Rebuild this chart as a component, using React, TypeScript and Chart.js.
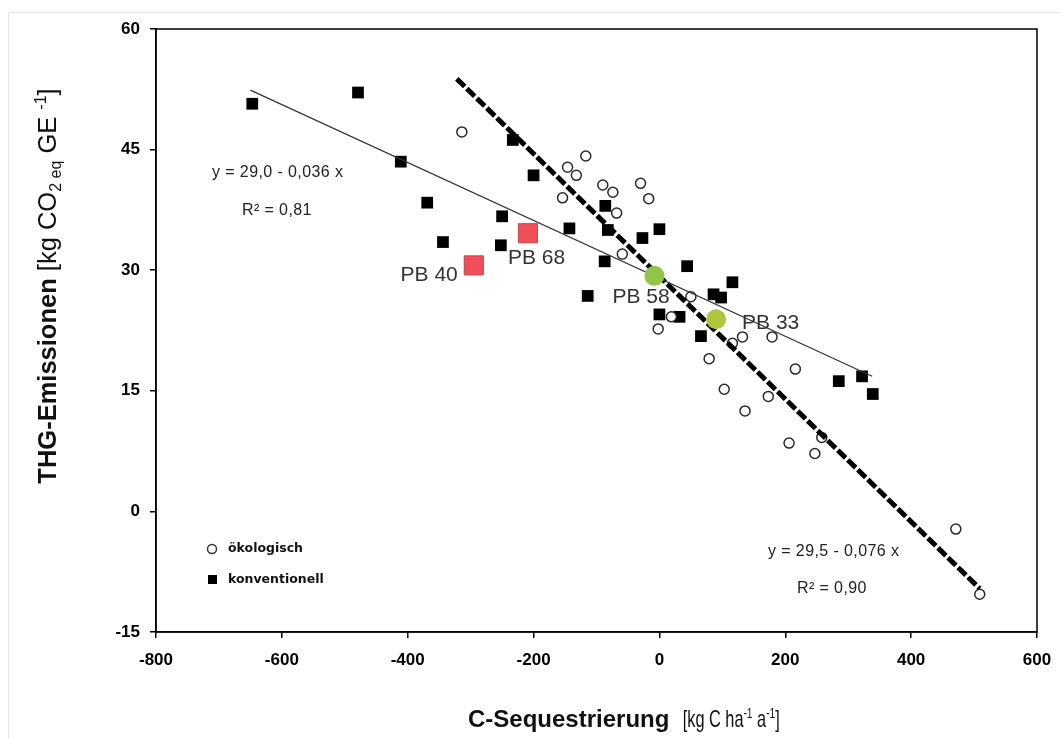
import React, { useEffect, useRef } from 'react';
import { Chart, registerables } from 'chart.js';

Chart.register(...registerables);

// ---- data ----
const oekoX = [-314, -117, -146, -132, -154, -90, -74, -68, -30, -17, -59, 50, 19, -2, 132, 179, 116, 79, 216, 103, 173, 136, 206, 258, 247, 471, 509];
const oekoY = [47.2, 44.2, 42.8, 41.8, 39.0, 40.6, 39.7, 37.1, 40.8, 38.9, 32.0, 26.7, 24.2, 22.7, 21.7, 21.7, 20.9, 19.0, 17.7, 15.2, 14.3, 12.5, 8.5, 9.2, 7.2, -2.2, -10.3];

const konvX = [-647, -479, -411, -369, -344, -233, -200, -250, -252, -143, -86, -82, -27, 0, -87, -114, 44, 0, 32, 86, 98, 116, 66, 285, 322, 339];
const konvY = [50.7, 52.1, 43.5, 38.4, 33.5, 46.2, 41.8, 36.7, 33.1, 35.2, 38.0, 35.0, 34.0, 35.1, 31.1, 26.8, 30.5, 24.5, 24.2, 27.0, 26.6, 28.5, 21.8, 16.2, 16.8, 14.6];

const pbRedLabels = ['PB 40', 'PB 68'];
const pbRedX = [-295, -209];
const pbRedY = [30.6, 34.6];
const pbGreenLabels = ['PB 58', 'PB 33'];
const pbGreenX = [-8, 90];
const pbGreenY = [29.3, 23.9];

// regression line end points
const trendKonvX = [-650, 338];
const trendKonvY = [52.4, 16.8];
const trendOekoX = [-322, 509];
const trendOekoY = [53.8, -9.6];

const xTicks = [-800, -600, -400, -200, 0, 200, 400, 600];
const yTicks = [-15, 0, 15, 30, 45, 60];

const eqKonv = ['y = 29,0 - 0,036 x', 'R² = 0,81'];
const eqOeko = ['y = 29,5 - 0,076 x', 'R² = 0,90'];
const legendLabels = ['ökologisch', 'konventionell'];

const toPts = (xs: number[], ys: number[]) => xs.map((x, i) => ({ x, y: ys[i] }));

type Seg = { t: string; font: string; dy?: number; sx?: number };

function segWidth(ctx: CanvasRenderingContext2D, segs: Seg[]) {
  let total = 0;
  for (const s of segs) {
    ctx.font = s.font;
    total += ctx.measureText(s.t).width * (s.sx || 1);
  }
  return total;
}

function drawSegs(ctx: CanvasRenderingContext2D, segs: Seg[], x0: number, cy: number) {
  let x = x0;
  ctx.textAlign = 'left';
  ctx.textBaseline = 'alphabetic';
  for (const s of segs) {
    ctx.font = s.font;
    const sx = s.sx || 1;
    ctx.save();
    ctx.translate(x, cy + (s.dy || 0));
    ctx.scale(sx, 1);
    ctx.fillText(s.t, 0, 0);
    ctx.restore();
    x += ctx.measureText(s.t).width * sx;
  }
}

const overlay = {
  id: 'overlay',
  beforeDraw(chart: any) {
    const ctx = chart.ctx;
    ctx.save();
    ctx.fillStyle = '#fff';
    ctx.fillRect(0, 0, chart.width, chart.height);
    ctx.strokeStyle = '#e4e4e4';
    ctx.lineWidth = 1;
    ctx.strokeRect(8.5, 12.5, chart.width, chart.height);
    ctx.restore();
  },
  afterDraw(chart: any) {
    const ctx = chart.ctx;
    const a = chart.chartArea;
    const xs = chart.scales.x;
    const ys = chart.scales.y;
    ctx.save();
    // box
    ctx.strokeStyle = '#000';
    ctx.lineWidth = 1.5;
    ctx.strokeRect(a.left, a.top, a.right - a.left, a.bottom - a.top);

    // equations
    ctx.fillStyle = '#222';
    ctx.font = '16px "Liberation Sans", Arial, sans-serif';
    (ctx as any).letterSpacing = '0.4px';
    ctx.textAlign = 'left';
    ctx.textBaseline = 'alphabetic';
    ctx.fillText(eqKonv[0], 212, 177);
    ctx.fillText(eqKonv[1], 242, 215);
    ctx.fillText(eqOeko[0], 768, 556);
    ctx.fillText(eqOeko[1], 797, 593);
    (ctx as any).letterSpacing = '0px';

    // PB labels
    ctx.fillStyle = '#333';
    ctx.font = '21px "Liberation Sans", Arial, sans-serif';
    const p40 = { x: xs.getPixelForValue(pbRedX[0]), y: ys.getPixelForValue(pbRedY[0]) };
    const p68 = { x: xs.getPixelForValue(pbRedX[1]), y: ys.getPixelForValue(pbRedY[1]) };
    const p58 = { x: xs.getPixelForValue(pbGreenX[0]), y: ys.getPixelForValue(pbGreenY[0]) };
    const p33 = { x: xs.getPixelForValue(pbGreenX[1]), y: ys.getPixelForValue(pbGreenY[1]) };
    ctx.textAlign = 'right';
    ctx.fillText(pbRedLabels[0], p40.x - 16, p40.y + 16);
    ctx.textAlign = 'left';
    ctx.fillText(pbRedLabels[1], p68.x - 20, p68.y + 31);
    ctx.fillText(pbGreenLabels[0], p58.x - 42, p58.y + 27);
    ctx.fillText(pbGreenLabels[1], p33.x + 26, p33.y + 10);

    // legend
    ctx.strokeStyle = '#333';
    ctx.lineWidth = 1.5;
    ctx.fillStyle = '#fff';
    ctx.beginPath();
    ctx.arc(212, 549, 4.5, 0, Math.PI * 2);
    ctx.fill();
    ctx.stroke();
    ctx.fillStyle = '#000';
    ctx.fillRect(208, 575, 9, 9);
    ctx.fillStyle = '#111';
    ctx.font = 'bold 12.5px "DejaVu Sans", sans-serif';
    ctx.textBaseline = 'middle';
    ctx.fillText(legendLabels[0], 228, 549);
    ctx.fillText(legendLabels[1], 228, 580);

    // axis titles
    ctx.fillStyle = '#111';
    const B = 'bold 24px "Liberation Sans", Arial, sans-serif';
    const N = '24px "Liberation Sans", Arial, sans-serif';
    const S = '15px "Liberation Sans", Arial, sans-serif';
    const xSegs: Seg[] = [
      { t: 'C-Sequestrierung', font: B },
      { t: '  ', font: N },
      { t: '[kg C ha', font: N, sx: 0.68 },
      { t: '-1', font: S, dy: -9, sx: 0.68 },
      { t: ' a', font: N, sx: 0.68 },
      { t: '-1', font: S, dy: -9, sx: 0.68 },
      { t: ']', font: N, sx: 0.68 },
    ];
    drawSegs(ctx, xSegs, 468, 727);

    const BY = 'bold 25.5px "Liberation Sans", Arial, sans-serif';
    const NY = '25.5px "Liberation Sans", Arial, sans-serif';
    const SY = '16px "Liberation Sans", Arial, sans-serif';
    const ySegs: Seg[] = [
      { t: 'THG-Emissionen', font: BY },
      { t: ' [kg CO', font: NY },
      { t: '2 eq', font: SY, dy: 5 },
      { t: ' GE ', font: NY },
      { t: '-1', font: SY, dy: -10 },
      { t: ']', font: NY },
    ];
    ctx.save();
    ctx.translate(56, 286);
    ctx.rotate(-Math.PI / 2);
    drawSegs(ctx, ySegs, -segWidth(ctx, ySegs) / 2, 0);
    ctx.restore();

    ctx.restore();
  },
};

export default function App() {
  const ref = useRef<HTMLCanvasElement>(null);
  useEffect(() => {
    if (!ref.current) return;
    const tickFont = { family: '"Liberation Sans", Arial, sans-serif', size: 17, weight: 'bold' as const };
    const chart = new Chart(ref.current, {
      type: 'scatter',
      data: {
        datasets: [
          {
            label: 'PB rot',
            data: toPts(pbRedX, pbRedY),
            pointStyle: 'rect',
            pointRadius: 13.5,
            backgroundColor: '#f04e58',
            borderColor: '#c8424c',
            borderWidth: 1,
            order: 0,
          },
          {
            label: 'PB grün',
            data: toPts(pbGreenX, pbGreenY),
            pointStyle: 'circle',
            pointRadius: 10,
            backgroundColor: ['#92c44a', '#b0c43c'],
            borderWidth: 0,
            order: 0,
          },
          {
            label: 'Trend konventionell',
            data: toPts(trendKonvX, trendKonvY),
            showLine: true,
            borderColor: '#333',
            borderWidth: 1.2,
            pointRadius: 0,
            order: 1,
          },
          {
            label: 'Trend ökologisch',
            data: toPts(trendOekoX, trendOekoY),
            showLine: true,
            borderColor: '#000',
            borderWidth: 5,
            borderDash: [11, 3],
            pointRadius: 0,
            order: 1,
          },
          {
            label: legendLabels[0],
            data: toPts(oekoX, oekoY),
            pointStyle: 'circle',
            pointRadius: 5,
            backgroundColor: '#fff',
            borderColor: '#2a2a2a',
            borderWidth: 1.5,
            order: 2,
          },
          {
            label: legendLabels[1],
            data: toPts(konvX, konvY),
            pointStyle: 'rect',
            pointRadius: 8.3,
            backgroundColor: '#000',
            borderWidth: 0,
            order: 2,
          },
        ],
      },
      options: {
        animation: false,
        responsive: false,
        events: [],
        layout: { padding: { left: 0, top: 29, right: 23, bottom: 0 } },
        plugins: { legend: { display: false }, tooltip: { enabled: false } },
        scales: {
          x: {
            type: 'linear',
            min: -800,
            max: 600,
            afterBuildTicks: (ax: any) => { ax.ticks = xTicks.map((v) => ({ value: v })); },
            afterFit: (ax: any) => { ax.height = 106; ax.paddingLeft = 0; ax.paddingRight = 0; },
            ticks: { color: '#000', font: tickFont, padding: 12, maxRotation: 0 },
            grid: { drawOnChartArea: false, drawTicks: true, tickLength: 6, color: '#000', lineWidth: 1.5 },
            border: { display: true, color: '#000', width: 1.5 },
          },
          y: {
            type: 'linear',
            min: -15,
            max: 60,
            afterBuildTicks: (ax: any) => { ax.ticks = yTicks.map((v) => ({ value: v })); },
            afterFit: (ax: any) => { ax.width = 156; ax.paddingTop = 0; ax.paddingBottom = 0; },
            ticks: { color: '#000', font: tickFont, padding: 10 },
            grid: { drawOnChartArea: false, drawTicks: true, tickLength: 6, color: '#000', lineWidth: 1.5 },
            border: { display: true, color: '#000', width: 1.5 },
          },
        },
      },
      plugins: [overlay],
    });
    return () => chart.destroy();
  }, []);
  return (
    <div style={{ position: 'fixed', left: 0, top: 0, width: 1060, height: 738, background: '#fff' }}>
      <canvas ref={ref} width={1060} height={738} />
    </div>
  );
}
